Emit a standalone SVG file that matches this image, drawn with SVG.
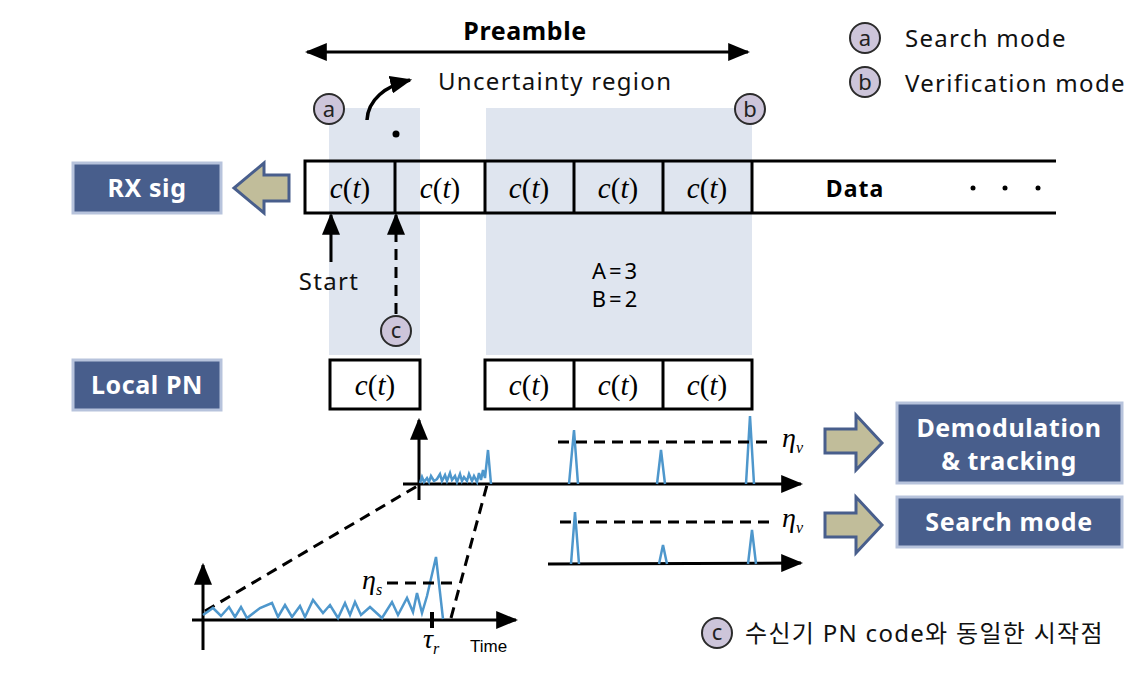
<svg xmlns="http://www.w3.org/2000/svg" width="1144" height="673" viewBox="0 0 1144 673">
<defs>
<marker id="ahb" viewBox="0 0 10 10" refX="9" refY="5" markerWidth="22" markerHeight="18" markerUnits="userSpaceOnUse" orient="auto-start-reverse" preserveAspectRatio="none"><path d="M0,0 L10,5 L0,10 z" fill="#000"/></marker>
</defs>
<style>
.sans{font-family:"Noto Sans","Open Sans","Noto Sans CJK KR",sans-serif;}
.box{fill:#485e8c;stroke:#b7c3dc;stroke-width:3;}
.btxt{font-family:"Noto Sans","Open Sans",sans-serif;font-weight:bold;fill:#fff;font-size:25px;text-anchor:middle;letter-spacing:0.6px;}
.cell{fill:none;stroke:#000;stroke-width:3;}
.ct{font-family:"Liberation Serif","DejaVu Serif",serif;font-size:29px;text-anchor:middle;}
.shade{fill:#dfe5ef;}
.circ{fill:#cdc5da;stroke:#2b2b2b;stroke-width:2;}
.ctx{font-family:"Noto Sans","Open Sans",sans-serif;font-size:22px;text-anchor:middle;fill:#222;}
.blk{fill:#c1bd9a;stroke:#485e8c;stroke-width:3;stroke-linejoin:miter;}
.dash{fill:none;stroke:#000;stroke-width:3;stroke-dasharray:11,7;}
.axis{fill:none;stroke:#000;stroke-width:3;}
.wave{fill:none;stroke:#4e97cc;stroke-width:2.5;stroke-linejoin:miter;}
.eta{font-family:"Liberation Serif","DejaVu Serif",serif;font-style:italic;font-size:28px;}
.txt{font-family:"Noto Sans","Open Sans","Noto Sans CJK KR",sans-serif;font-size:24px;fill:#111;letter-spacing:1.3px;}
</style>
<rect width="1144" height="673" fill="#fff"/>

<!-- shaded regions -->
<rect class="shade" x="329" y="108" width="91" height="247"/>
<rect class="shade" x="486" y="108" width="266" height="247"/>

<!-- Preamble -->
<g id="preamble">
<text x="525" y="40" class="sans" font-size="25" font-weight="bold" text-anchor="middle" letter-spacing="0.6">Preamble</text>
<line x1="307" y1="52" x2="748" y2="52" stroke="#000" stroke-width="3" marker-start="url(#ahb)" marker-end="url(#ahb)"/>
</g>

<g id="uncertainty">
<text x="438" y="90" class="txt">Uncertainty region</text>
<path d="M367,120 C368,100 385,86 410,80" fill="none" stroke="#000" stroke-width="3.5" marker-end="url(#ahb)"/>
<circle cx="396" cy="134" r="3.5" fill="#000"/>
</g>

<g id="circle-a"><circle class="circ" cx="329" cy="109" r="15"/><text class="ctx" x="329" y="117">a</text></g>
<g id="circle-b"><circle class="circ" cx="750" cy="109" r="15"/><text class="ctx" x="750" y="117">b</text></g>

<!-- RX signal row -->
<g id="rx-row">
<path class="cell" d="M1056,161 L305,161 L305,213 L1056,213"/>
<line class="cell" x1="395" y1="161" x2="395" y2="213"/>
<line class="cell" x1="485" y1="161" x2="485" y2="213"/>
<line class="cell" x1="574" y1="161" x2="574" y2="213"/>
<line class="cell" x1="663" y1="161" x2="663" y2="213"/>
<line class="cell" x1="752" y1="161" x2="752" y2="213"/>
<text class="ct" x="350" y="198"><tspan font-style="italic">c</tspan>(<tspan font-style="italic">t</tspan>)</text>
<text class="ct" x="440" y="198"><tspan font-style="italic">c</tspan>(<tspan font-style="italic">t</tspan>)</text>
<text class="ct" x="529" y="198"><tspan font-style="italic">c</tspan>(<tspan font-style="italic">t</tspan>)</text>
<text class="ct" x="618" y="198"><tspan font-style="italic">c</tspan>(<tspan font-style="italic">t</tspan>)</text>
<text class="ct" x="707" y="198"><tspan font-style="italic">c</tspan>(<tspan font-style="italic">t</tspan>)</text>
<text x="855" y="197" class="sans" font-size="23" font-weight="bold" text-anchor="middle" letter-spacing="1">Data</text>
<circle cx="973" cy="188" r="2.5" fill="#000"/>
<circle cx="1005" cy="188" r="2.5" fill="#000"/>
<circle cx="1038" cy="188" r="2.5" fill="#000"/>
</g>

<g id="rx-sig"><rect class="box" x="73" y="163" width="148" height="50"/><text class="btxt" x="147" y="197">RX sig</text></g>
<g id="local-pn"><rect class="box" x="73" y="360" width="148" height="50"/><text class="btxt" x="147" y="394">Local PN</text></g>

<!-- local PN row -->
<g id="pn-row">
<rect class="cell" x="330" y="360" width="90" height="49"/>
<rect class="cell" x="485" y="360" width="267" height="49"/>
<line class="cell" x1="574" y1="360" x2="574" y2="409"/>
<line class="cell" x1="663" y1="360" x2="663" y2="409"/>
<text class="ct" x="375" y="395"><tspan font-style="italic">c</tspan>(<tspan font-style="italic">t</tspan>)</text>
<text class="ct" x="529" y="395"><tspan font-style="italic">c</tspan>(<tspan font-style="italic">t</tspan>)</text>
<text class="ct" x="618" y="395"><tspan font-style="italic">c</tspan>(<tspan font-style="italic">t</tspan>)</text>
<text class="ct" x="707" y="395"><tspan font-style="italic">c</tspan>(<tspan font-style="italic">t</tspan>)</text>
</g>

<g id="ab-label">
<text x="616" y="279" class="sans" font-size="22" text-anchor="middle" letter-spacing="3">A=3</text>
<text x="616" y="307" class="sans" font-size="22" text-anchor="middle" letter-spacing="3">B=2</text>
</g>

<!-- connectors -->
<g id="connectors">
<line x1="331" y1="262" x2="331" y2="215" stroke="#000" stroke-width="3" marker-end="url(#ahb)"/>
<text x="329" y="290" class="txt" text-anchor="middle">Start</text>
<line x1="396" y1="314" x2="396" y2="238" class="dash"/>
<line x1="396" y1="238" x2="396" y2="215" stroke="#000" stroke-width="3" marker-end="url(#ahb)"/>
<line x1="205" y1="611" x2="419" y2="485" class="dash"/>
<line x1="451" y1="618" x2="487" y2="485" class="dash"/>
<!-- block arrows -->
<path class="blk" d="M289,175 L264,175 L264,163 L234,188 L264,213 L264,201 L289,201 Z"/>
<path class="blk" d="M825,429 L856,429 L856,415 L882,443 L856,470 L856,453 L825,453 Z"/>
<path class="blk" d="M825,513 L856,513 L856,497 L882,525 L856,553 L856,537 L825,537 Z"/>
</g>

<g id="circle-c"><circle class="circ" cx="396" cy="331" r="15"/><text class="ctx" x="396" y="338">c</text></g>

<!-- upper correlation plot -->
<g id="plot-upper">
<line class="axis" x1="419" y1="500" x2="419" y2="420" marker-end="url(#ahb)"/>
<line class="axis" x1="403" y1="484" x2="801" y2="484" marker-end="url(#ahb)"/>
<path class="wave" d="M420,483 L422,477 L424,482 L427,478 L429,482 L431,476 L434,481 L437,479 L440,474 L442,481 L445,475 L447,481 L450,473 L452,480 L455,476 L457,482 L460,474 L462,481 L464,477 L467,481 L469,474 L472,481 L474,476 L477,482 L479,473 L481,480 L483,470 L485,478 L488,450 L491,484"/>
<path class="wave" d="M569,484 L574,430 L578,484"/>
<path class="wave" d="M657,484 L661,450 L665,484"/>
<path class="wave" d="M746,484 L750,416 L754,484"/>
<line x1="558" y1="442" x2="768" y2="442" class="dash"/>
<text x="782" y="447" class="eta">η<tspan font-size="16" dy="6">v</tspan></text>
</g>

<g id="plot-middle">
<line class="axis" x1="548" y1="564" x2="801" y2="563" marker-end="url(#ahb)"/>
<path class="wave" d="M571,564 L575,512 L579,564"/>
<path class="wave" d="M659,564 L663,545 L667,564"/>
<path class="wave" d="M748,564 L752,530 L756,564"/>
<line x1="560" y1="522" x2="770" y2="522" class="dash"/>
<text x="782" y="527" class="eta">η<tspan font-size="16" dy="6">v</tspan></text>
</g>

<!-- lower plot -->
<g id="plot-lower">
<line class="axis" x1="203" y1="650" x2="203" y2="565" marker-end="url(#ahb)"/>
<line class="axis" x1="192" y1="620" x2="516" y2="620" marker-end="url(#ahb)"/>
<path class="wave" d="M203,615 L213,608 L221,616 L229,607 L235,617 L241,607 L247,618 L260,608 L272,603 L278,617 L285,605 L292,617 L300,606 L305,617 L313,600 L323,613 L330,605 L338,618 L345,603 L350,615 L355,602 L361,615 L370,607 L382,618 L392,602 L398,615 L407,598 L413,612 L417,593 L422,613 L427,596 L436,557 L443,619"/>
<line x1="387" y1="583" x2="456" y2="583" class="dash"/>
<line x1="432" y1="612" x2="432" y2="628" stroke="#000" stroke-width="4"/>
<text x="362" y="589" class="eta">η<tspan font-size="16" dy="6">s</tspan></text>
<text x="423" y="648" class="eta">τ<tspan font-size="16" dy="6">r</tspan></text>
<text x="470" y="652" font-family="Liberation Sans, Arial, sans-serif" font-size="17">Time</text>
</g>

<g id="demod"><rect class="box" x="897" y="403" width="225" height="80"/><text class="btxt" x="1009" y="437">Demodulation</text><text class="btxt" x="1009" y="470">&amp; tracking</text></g>
<g id="search"><rect class="box" x="897" y="497" width="225" height="50"/><text class="btxt" x="1009" y="531">Search mode</text></g>

<!-- legend -->
<g id="legend">
<circle class="circ" cx="865" cy="38" r="15"/><text class="ctx" x="865" y="46">a</text>
<text x="905" y="47" class="txt">Search mode</text>
<circle class="circ" cx="865" cy="82" r="15"/><text class="ctx" x="865" y="90">b</text>
<text x="905" y="92" class="txt">Verification mode</text>
<circle class="circ" cx="717" cy="633" r="15"/><text class="ctx" x="717" y="640">c</text>
<text x="745" y="642" class="txt" font-size="22" letter-spacing="2.2">수신기 PN code와 동일한 시작점</text>
</g>
</svg>
